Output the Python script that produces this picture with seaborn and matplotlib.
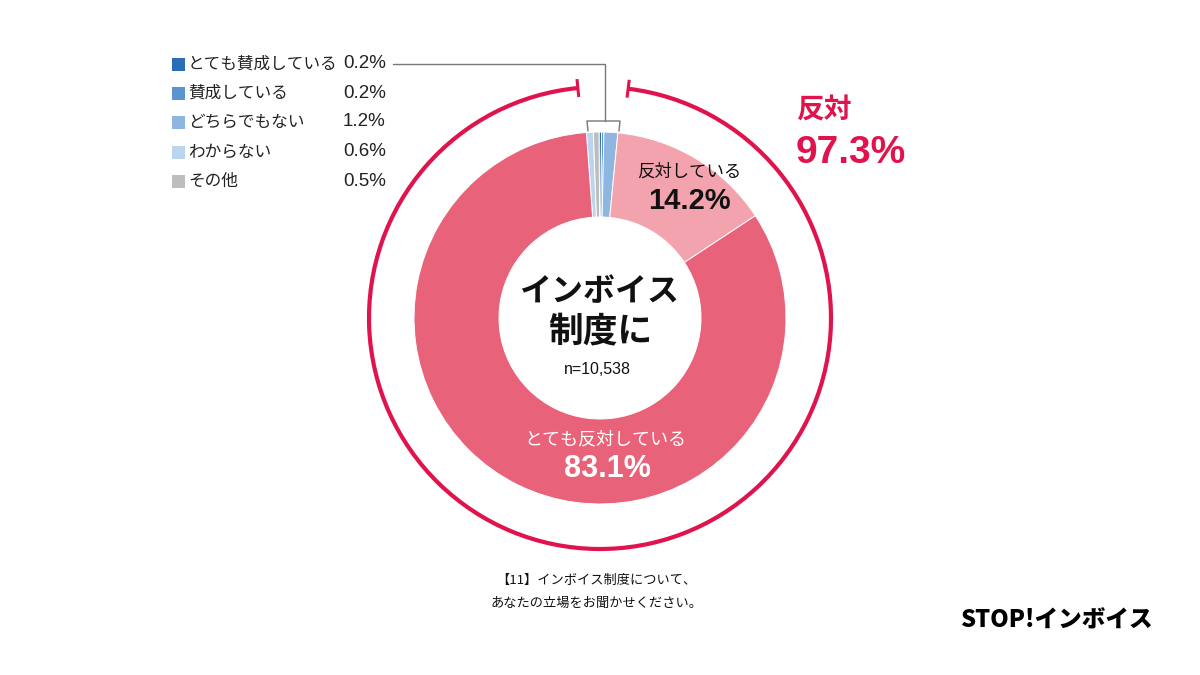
import numpy as np
import matplotlib
matplotlib.use("Agg")
import matplotlib.pyplot as plt
from matplotlib.patches import Arc, Rectangle
import seaborn as sns

# ---- data ----
categories = ["とても賛成している", "賛成している", "どちらでもない", "わからない", "その他",
              "反対している", "とても反対している"]
values = [0.2, 0.2, 1.2, 0.6, 0.5, 14.2, 83.1]
colors = ["#2a6db5", "#5b95d0", "#8fb6e0", "#bcd5ee", "#bdbdbd", "#f2a3ae", "#e8637a"]
legend_items = categories[:5]
pie_order = ["わからない", "その他", "とても賛成している", "賛成している", "どちらでもない",
             "反対している", "とても反対している"]
oppose_total = "97.3%"
sample_size = "n=10,538"

sns.set_theme(style="white")
plt.rcParams['font.family'] = ['Noto Sans CJK JP', 'DejaVu Sans']
NUM = ['Liberation Sans', 'Noto Sans CJK JP']

W, H = 1200, 675
fig = plt.figure(figsize=(12, 6.75), dpi=100)
ax = fig.add_axes([0, 0, 1, 1])

def Y(y):
    return H - y

cx, cy = 600, Y(318)
R_out, R_in = 186, 101

idx = {c: i for i, c in enumerate(categories)}
pv = [values[idx[c]] for c in pie_order]
pc = [colors[idx[c]] for c in pie_order]
ax.pie(pv, colors=pc, startangle=94.2, counterclock=False, center=(cx, cy),
       radius=R_out, wedgeprops=dict(width=R_out - R_in, edgecolor="white", linewidth=0.7),
       frame=True)
ax.set_xlim(0, W)
ax.set_ylim(0, H)
ax.set_aspect("equal")
ax.axis("off")

# outer bracket ring
ring_c = "#e0134d"
Rr = 231
t1, t2 = 95.5, 83.0
ax.add_patch(Arc((cx, cy), 2 * Rr, 2 * Rr, theta1=t1, theta2=t2 + 360, color=ring_c, lw=3.0))
for t in (t1, t2):
    a = np.deg2rad(t)
    ax.plot([cx + (Rr - 9) * np.cos(a), cx + (Rr + 9) * np.cos(a)],
            [cy + (Rr - 9) * np.sin(a), cy + (Rr + 9) * np.sin(a)], color=ring_c, lw=2.2,
            solid_capstyle="butt")

# leader line from legend to small slices
lc = "#777777"
ax.plot([393, 605, 605], [Y(64), Y(64), Y(121)], color=lc, lw=1)
ax.plot([588, 587, 620, 619], [Y(131), Y(121), Y(121), Y(131)], color=lc, lw=1)

# legend
rows_y = [64, 93, 122, 152, 181]
for name, yy in zip(legend_items, rows_y):
    ax.add_patch(Rectangle((172, Y(yy) - 6.5), 13, 13, color=colors[idx[name]], lw=0))
    ax.text(188, Y(yy), name, fontsize=12, va="center", ha="left", color="#222222")
    ax.text(343, Y(yy), f"{values[idx[name]]}%", fontsize=13.5, va="center", ha="left",
            color="#222222", family=NUM)

# center title
ax.text(cx, Y(292), "インボイス", fontsize=23, fontweight="bold", ha="center", va="center", color="#111111")
ax.text(cx, Y(331), "制度に", fontsize=25, fontweight="bold", ha="center", va="center", color="#111111")
ax.text(597, Y(370), sample_size, fontsize=11.5, ha="center", va="center", color="#111111", family=NUM)

# slice labels
ax.text(689, Y(172), categories[5], fontsize=12.5, ha="center", va="center", color="#111111")
ax.text(689, Y(201), f"{values[5]}%", fontsize=21, fontweight="bold", ha="center", va="center",
        color="#111111", family=NUM)
ax.text(605, Y(439), categories[6], fontsize=13, ha="center", va="center", color="white")
ax.text(607, Y(469), f"{values[6]}%", fontsize=22, fontweight="bold", ha="center", va="center",
        color="white", family=NUM)

# total oppose
ax.text(797, Y(111), "反対", fontsize=20, fontweight="bold", ha="left", va="center", color=ring_c)
ax.text(796, Y(153), oppose_total, fontsize=28, fontweight="bold", ha="left", va="center",
        color=ring_c, family=NUM)

# footnote
ax.text(596, Y(580), "【11】インボイス制度について、", fontsize=9.5, ha="center", va="center", color="#111111")
ax.text(596, Y(603), "あなたの立場をお聞かせください。", fontsize=9.5, ha="center", va="center", color="#111111")

# logo
ax.text(1056, Y(620), "STOP!インボイス", fontsize=17, fontweight="black", ha="center", va="center",
        color="#000000")

fig.savefig("out.png", dpi=100)
